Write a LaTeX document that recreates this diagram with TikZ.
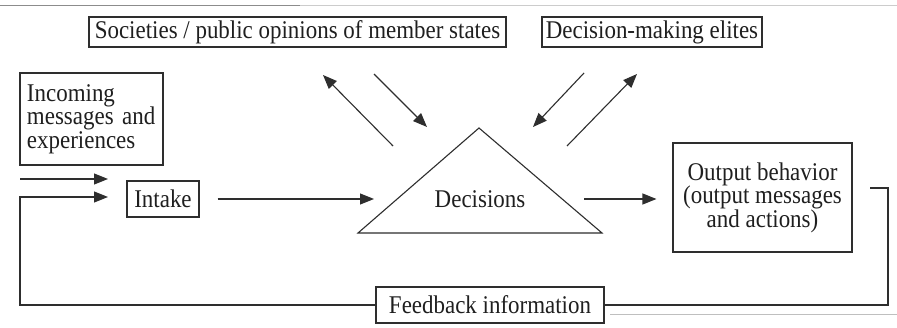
\documentclass[tikz,border=0pt]{standalone}
\usepackage{fontspec}
\setmainfont{Liberation Serif}[FakeStretch=0.9]
\usetikzlibrary{arrows.meta,calc}
\begin{document}
\begin{tikzpicture}[x=1pt,y=-1pt,
  ink/.style={draw=black!82,line width=1.1pt},
  box/.style={ink,inner sep=0pt,text=black!88,font=\fontsize{25.5}{23.5}\selectfont},
  arr/.style={ink,-{Triangle[length=14pt,width=11pt]}},
  ln/.style={ink}]
\useasboundingbox (0,0) rectangle (897,328);
\fill[white] (0,0) rectangle (897,328);
\draw[black!45,line width=0.8pt] (0,5) -- (300,5);
\draw[black!20,line width=0.8pt] (300,5) -- (897,5);
\draw[black!25,line width=0.8pt] (610,314) -- (897,314);
% boxes
\node[box,minimum width=417,minimum height=30] (soc) at (297.5,32) {Societies / public opinions of member states};
\node[box,minimum width=220,minimum height=30] (elites) at (652,32) {Decision-making elites};
\node[box,minimum width=143,minimum height=92,text width=129,align=left] (incoming) at (91.5,119) {Incoming\\messages and\\experiences};
\node[box,minimum width=72,minimum height=36] (intake) at (163,199) {Intake};
\node[box,minimum width=179,minimum height=109,align=center] (output) at (762.5,197.5) {Output behavior\\(output messages\\and actions)};
\node[box,minimum width=228,minimum height=36] (feedback) at (490,305) {Feedback information};
% triangle
\coordinate (apex) at (479,128);
\coordinate (bl) at (358,233);
\coordinate (br) at (602,233);
\draw[ink,line join=miter] (apex) -- (bl) -- (br) -- cycle;
\node[text=black!88,font=\fontsize{25.5}{26}\selectfont] (dec) at (480,199) {Decisions};
% incoming arrows
\coordinate (i1s) at (20,179);
\coordinate (i1e) at (108,179);
\coordinate (i2s) at (20,197);
\coordinate (i2e) at (108,197);
\draw[arr] (i1s) -- (i1e);
\draw[arr] (feedback.west) -| (i2s) -- (i2e);
% intake -> decisions
\coordinate (d1) at (374,199);
\draw[arr] ($(intake.east)+(18,0)$) -- (d1);
% decisions -> output
\coordinate (d2) at (584,199);
\draw[arr] (d2) -- ($(output.west)+(-16,1.5)$);
% output -> feedback
\coordinate (o1) at (870,188);
\coordinate (o2) at (888,188);
\draw[ln] (o1) -- (o2) |- (feedback.east);
% diagonal arrows
\coordinate (a1s) at (393,146); \coordinate (a1e) at (323,75);
\coordinate (a2s) at (374,74);  \coordinate (a2e) at (427,127);
\coordinate (a3s) at (584,73);  \coordinate (a3e) at (533,127);
\coordinate (a4s) at (567,146); \coordinate (a4e) at (637,74);
\draw[arr] (a1s) -- (a1e);
\draw[arr] (a2s) -- (a2e);
\draw[arr] (a3s) -- (a3e);
\draw[arr] (a4s) -- (a4e);
\end{tikzpicture}
\end{document}
